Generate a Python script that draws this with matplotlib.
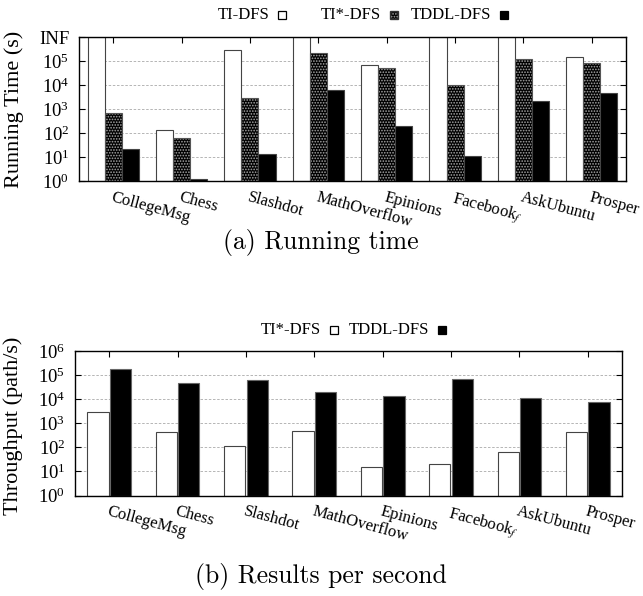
import numpy as np
import matplotlib
matplotlib.use("Agg")
import matplotlib.pyplot as plt
from matplotlib.patches import Rectangle
from matplotlib.ticker import FixedLocator, FuncFormatter, NullLocator

plt.rcParams["font.family"] = ["Liberation Serif", "DejaVu Serif"]
plt.rcParams["mathtext.fontset"] = "stix"
plt.rcParams["hatch.linewidth"] = 0.8

# Data
datasets = ["CollegeMsg", "Chess", "Slashdot", "MathOverflow", "Epinions",
            r"Facebook$_f$", "AskUbuntu", "Prosper"]
INF = float("inf")

# (a) running time in seconds
ti_dfs_time = [INF, 130, 2.9e5, INF, 6.6e4, INF, INF, 1.5e5]
tistar_dfs_time = [660, 62, 2950, 2.2e5, 5.3e4, 1.0e4, 1.18e5, 8.3e4]
tddl_dfs_time = [21, 1.2, 13, 6200, 195, 11, 2150, 4650]

# (b) throughput in paths per second
tistar_dfs_tp = [3000, 420, 110, 480, 15, 21, 66, 420]
tddl_dfs_tp = [1.8e5, 4.5e4, 6.3e4, 2.0e4, 1.3e4, 6.8e4, 1.07e4, 7500]

W, H = 643, 596
fig = plt.figure(figsize=(W / 100, H / 100), dpi=100)

def px(x, y):
    return x / W, 1 - y / H

def style_axes(ax, top_label):
    ax.set_yscale("log")
    ax.set_ylim(1, 1e6)
    ax.set_xlim(-0.5, len(datasets) - 0.5)
    ax.yaxis.set_major_locator(FixedLocator([10.0 ** k for k in range(7)]))
    ax.yaxis.set_minor_locator(NullLocator())

    def fmt(v, pos):
        k = int(round(np.log10(v)))
        if k == 6 and top_label:
            return top_label
        return r"$\mathregular{10^{%d}}$" % k
    ax.yaxis.set_major_formatter(FuncFormatter(fmt))
    ax.set_axisbelow(True)
    ax.grid(axis="y", which="major", linestyle=(0, (3, 2)), color="#aaaaaa", linewidth=0.6)
    ax.tick_params(axis="y", direction="in", right=True, length=4, labelsize=13.5, pad=7)
    ax.tick_params(axis="x", direction="in", top=True, bottom=False, length=4, labelsize=12, pad=6)
    ax.set_xticks(np.arange(len(datasets)))
    ax.set_xticklabels(datasets, rotation=-15, ha="left", rotation_mode="anchor")
    for s in ax.spines.values():
        s.set_linewidth(1.0)

def dotted_bars(ax, x, vals, w):
    h = [v - 1 for v in vals]
    ax.bar(x, h, w, bottom=1, facecolor="black", edgecolor="#a8a8a8", hatch="......", linewidth=0)
    ax.bar(x, h, w, bottom=1, fill=False, edgecolor="#555555", linewidth=0.8)

# ---------------- (a) Running time ----------------
ax1 = fig.add_axes([79 / W, 1 - 181 / H, 547 / W, 144 / H])
x = np.arange(len(datasets))
bw = 0.25
top = 1e6
ti_plot = [top if np.isinf(v) else v for v in ti_dfs_time]
ax1.bar(x - bw, [v - 1 for v in ti_plot], bw, bottom=1, facecolor="white", edgecolor="#444444", linewidth=0.8)
dotted_bars(ax1, x, tistar_dfs_time, bw)
ax1.bar(x + bw, [v - 1 for v in tddl_dfs_time], bw, bottom=1, facecolor="black", edgecolor="#444444", linewidth=0.8)
style_axes(ax1, "INF")
ax1.set_ylabel("Running Time (s)", fontsize=16)
ax1.yaxis.set_label_coords(-0.1, 0.5)

# ---------------- (b) Throughput ----------------
ax2 = fig.add_axes([75 / W, 1 - 495.5 / H, 547 / W, 144.5 / H])
bw2 = 0.31
off = 0.165
ax2.bar(x - off, [v - 1 for v in tistar_dfs_tp], bw2, bottom=1, facecolor="white", edgecolor="#444444", linewidth=0.8)
ax2.bar(x + off, [v - 1 for v in tddl_dfs_tp], bw2, bottom=1, facecolor="black", edgecolor="#666666", linewidth=0.8)
style_axes(ax2, None)
ax2.set_ylabel("Throughput (path/s)", fontsize=16)
ax2.yaxis.set_label_coords(-0.095, 0.48)

# ---------------- legends (gnuplot style: label then box) ----------------
def legend_entry(xr, yc, label, kind):
    fig.text(*px(xr, yc), label, ha="right", va="center", fontsize=12)
    bx, by = px(xr + 9, yc + 4)
    r = Rectangle((bx, by), 8 / W, 8 / H, transform=fig.transFigure,
                  linewidth=0.9, edgecolor="black" if kind != "dot" else "#a8a8a8",
                  facecolor="white" if kind == "white" else "black",
                  hatch="......" if kind == "dot" else None)
    fig.add_artist(r)
    if kind == "dot":
        fig.add_artist(Rectangle((bx, by), 8 / W, 8 / H, transform=fig.transFigure,
                                 fill=False, edgecolor="#333333", linewidth=0.9))

legend_entry(269, 15, "TI-DFS", "white")
legend_entry(381, 15, "TI*-DFS", "dot")
legend_entry(491, 15, "TDDL-DFS", "black")

legend_entry(321, 330, "TI*-DFS", "white")
legend_entry(429, 330, "TDDL-DFS", "black")

# ---------------- captions ----------------
fig.text(*px(321, 242), "(a) Running time", ha="center", va="center", fontsize=18.5, family="cmr10")
fig.text(*px(321, 577), "(b) Results per second", ha="center", va="center", fontsize=18.5, family="cmr10")

fig.savefig("out.png", dpi=100)
